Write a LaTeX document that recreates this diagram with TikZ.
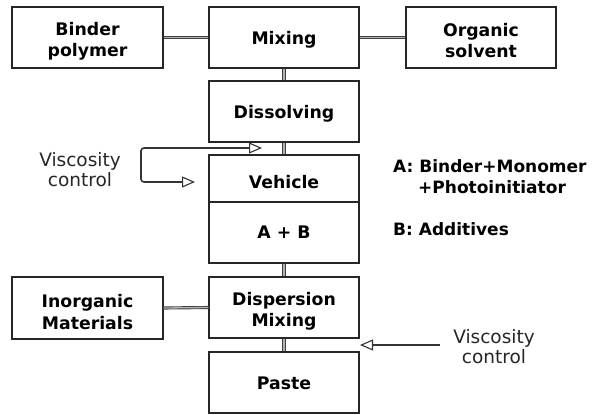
\documentclass[tikz,border=0pt]{standalone}
\usepackage{fontspec}
\setmainfont{DejaVu Sans}
\usetikzlibrary{arrows.meta}
\tikzset{
  box/.style={draw=black!85, line width=1.3pt, minimum width=150pt, minimum height=61pt, inner sep=0pt},
  boxtext/.style={align=center, inner sep=0pt, font=\bfseries\fontsize{17.3}{21.5}\selectfont},
  link/.style={draw=black!75, double=black!30, double distance=1.3pt, line width=0.9pt},
  ctrl/.style={draw=black!80, line width=1.6pt, rounded corners=3pt},
  hollow/.tip={Triangle[open,length=13pt,width=11pt,line width=1.1pt]},
  note/.style={font=\bfseries\fontsize{17}{20}\selectfont, inner sep=0pt},
  vlabel/.style={font=\fontsize{18.5}{20}\selectfont, align=center, inner sep=0pt, text=black!85}
}
\begin{document}
\begin{tikzpicture}[x=1pt,y=-1pt]
\useasboundingbox (0,0) rectangle (600,415);
\node[box, minimum width=151pt] (binder) at (87.5,37.5) {};
\node[box] (mixing) at (284,37.5) {};
\node[box] (organic) at (481,37.5) {};
\node[box] (dissolving) at (284,111.5) {};
\node[box, minimum height=47pt] (vehicle) at (284,178.5) {};
\node[box] (ab) at (284,232.5) {};
\node[box] (dispersion) at (284,307.5) {};
\node[box, minimum width=151pt, minimum height=62pt] (inorganic) at (87.5,308) {};
\node[box] (paste) at (284,382.5) {};

\node[boxtext] (binderT) at ([yshift=-4pt]binder) {Binder\\polymer};
\node[boxtext] (mixingT) at ([yshift=-2pt]mixing) {Mixing};
\node[boxtext] (organicT) at ([yshift=-3pt]organic) {Organic\\solvent};
\node[boxtext] (dissolvingT) at ([yshift=-2pt]dissolving) {Dissolving};
\node[boxtext] (vehicleT) at ([yshift=-4pt]vehicle) {Vehicle};
\node[boxtext] (abT) at (ab) {A + B};
\node[boxtext] (dispersionT) at ([yshift=-4pt]dispersion) {Dispersion\\Mixing};
\node[boxtext] (inorganicT) at ([yshift=-4pt]inorganic) {Inorganic\\Materials};
\node[boxtext] (pasteT) at ([yshift=-1pt]paste) {Paste};

\draw[link] (binder.east) -- (mixing.west);
\draw[link] (mixing.east) -- (organic.west);
\draw[link] (mixing.south) -- (dissolving.north);
\draw[link] (dissolving.south) -- (vehicle.north);
\draw[link] (ab.south) -- (dispersion.north);
\draw[link] (inorganic.east) -- (dispersion.west);
\draw[link] (dispersion.south) -- (paste.north);

\coordinate (vtop) at (262,148);
\coordinate (vbot) at (195,182);
\draw[ctrl, {hollow}-{hollow}] (vtop) -- (141,148) -- (141,182) -- (vbot);
\node[vlabel] (vleft) at (80,170) {Viscosity\\control};

\coordinate (vtip) at (360,345);
\coordinate (vstart) at (440,345);
\draw[ctrl, -{hollow}] (vstart) -- (vtip);
\node[vlabel] (vright) at (494,347) {Viscosity\\control};

\node[note, anchor=base west] (a1) at (393,172) {A: Binder+Monomer};
\node[note, anchor=base west] (a2) at (418,193) {+Photoinitiator};
\node[note, anchor=base west] (b1) at (393,235) {B: Additives};
\end{tikzpicture}
\end{document}
